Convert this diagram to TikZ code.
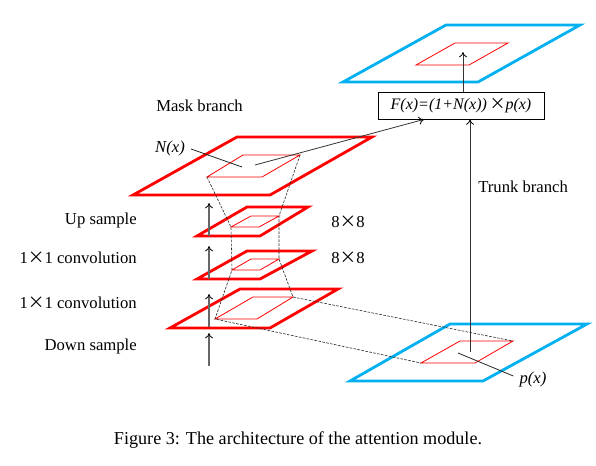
\documentclass[tikz,border=0pt]{standalone}
\usepackage{fontspec}
\setmainfont{Liberation Serif}
\newfontfamily\cjk{Noto Sans CJK SC}
\usetikzlibrary{arrows.meta,calc}
\definecolor{skyb}{RGB}{0,176,240}
\begin{document}
\begin{tikzpicture}[x=0.75pt,y=-0.75pt,
  outerred/.style={draw=red,line width=2.1pt,line join=miter},
  innerred/.style={draw=red,line width=0.6pt},
  outerblue/.style={draw=skyb,line width=2.1pt,line join=miter},
  dashline/.style={draw=black!85,line width=0.45pt,dash pattern=on 2pt off 1pt},
  lbl/.style={font=\fontsize{12.5}{14}\selectfont,inner sep=0pt},
  uparrow/.style={draw=black!60,line width=0.8pt,-{To[length=4pt,width=6pt,line width=0.6pt,color=black]}},
  thinarrow/.style={draw=black!80,line width=0.6pt,-{To[length=4pt,width=6pt,line width=0.6pt,color=black]}},
  pointer/.style={draw=black!85,line width=0.6pt}]
\useasboundingbox (0,0) rectangle (596,465);

% top output plane
\draw[outerblue] (343,82) -- (446,25) -- (580,25) -- (478,82) -- cycle;
\draw[innerred] (416,65) -- (455,43) -- (508,43) -- (469,65) -- cycle;

% mask plane
\draw[outerred] (133,195) -- (237,137) -- (372,137) -- (270,195) -- cycle;
\coordinate (mbl) at (207,177); \coordinate (mtl) at (243,155);
\coordinate (mtr) at (300,155); \coordinate (mbr) at (262,177);
\draw[innerred] (mbl) -- (mtl) -- (mtr) -- (mbr) -- cycle;

% up sample plane
\draw[outerred] (197,236) -- (247,207) -- (308,207) -- (260,236) -- cycle;
\coordinate (ubl) at (231,227); \coordinate (utl) at (251,216);
\coordinate (utr) at (279,216); \coordinate (ubr) at (259,227);
\draw[innerred] (ubl) -- (utl) -- (utr) -- (ubr) -- cycle;

% conv plane 2
\draw[outerred] (197,279) -- (247,251) -- (312,251) -- (260,279) -- cycle;
\coordinate (cbl) at (232,270); \coordinate (ctl) at (251,259);
\coordinate (ctr) at (279,259); \coordinate (cbr) at (260,270);
\draw[innerred] (cbl) -- (ctl) -- (ctr) -- (cbr) -- cycle;

% conv plane 1
\draw[outerred] (170,328) -- (240,289) -- (338,289) -- (270,328) -- cycle;
\coordinate (dbl) at (215,319); \coordinate (dtl) at (253,297);
\coordinate (dtr) at (293,297); \coordinate (dbr) at (257,319);
\draw[innerred] (dbl) -- (dtl) -- (dtr) -- (dbr) -- cycle;

% trunk plane
\draw[outerblue] (350,381) -- (450,324) -- (587,324) -- (483,381) -- cycle;
\coordinate (tbl) at (421,363); \coordinate (ttl) at (460,341);
\coordinate (ttr) at (513,341); \coordinate (tbr) at (475,363);
\draw[innerred] (tbl) -- (ttl) -- (ttr) -- (tbr) -- cycle;

% dashed connectors
\draw[dashline] (mbl) -- (ubl) -- (cbl) -- (dbl) -- (tbl);
\draw[dashline] (mtr) -- (utr) -- (ctr) -- (dtr) -- (ttr);

% left arrows
\coordinate (a0) at (209,366); \coordinate (a1) at (209,333);
\coordinate (a2) at (209,327); \coordinate (a3) at (209,294);
\coordinate (a4) at (209,279); \coordinate (a5) at (209,246);
\coordinate (a6) at (209,236); \coordinate (a7) at (209,203);
\draw[uparrow] (a0) -- (a1);
\draw[uparrow] (a2) -- (a3);
\draw[uparrow] (a4) -- (a5);
\draw[uparrow] (a6) -- (a7);

% formula box
\node[draw,line width=0.6pt,minimum width=124.5pt,minimum height=20.25pt,inner sep=0pt,
      font=\fontsize{12}{14}\selectfont\itshape] (fx) at (461,105.5)
  {F(x)=(1+N(x))\,{\cjk\upshape ×}p(x)};
\coordinate (otop) at (463,52);
\draw[thinarrow] (fx.north -| otop) -- (otop);
\coordinate (tp) at (470,352);
\draw[thinarrow] (tp) -- (tp |- fx.south);
\coordinate (nx) at (255,165);
\coordinate (fxin) at (424,121);
\draw[thinarrow] (nx) -- (fxin |- fx.south);

% labels
\node[lbl,anchor=west] (mask) at (156,106) {Mask branch};
\node[lbl,font=\fontsize{12.5}{14}\selectfont\itshape] (nxl) at (170,148) {N(x)};
\coordinate (nxp) at (242,167);
\draw[pointer] ($(nxl.east)+(6,1)$) -- (nxp);
\node[lbl,font=\fontsize{12.5}{14}\selectfont\itshape] (pxl) at (533,379) {p(x)};
\coordinate (pxp) at (458,353);
\draw[pointer] ($(pxl.west)+(-6,-3)$) -- (pxp);

\node[lbl,anchor=east] (lup) at (137,220) {Up sample};
\node[lbl,anchor=east] (lc2) at (137,258) {1{\cjk ×}1 convolution};
\node[lbl,anchor=east] (lc1) at (137,303) {1{\cjk ×}1 convolution};
\node[lbl,anchor=east] (ldn) at (137,346) {Down sample};
\node[lbl,anchor=west] (s1) at (331,222) {8{\cjk ×}8};
\node[lbl,anchor=west] (s2) at (331,258) {8{\cjk ×}8};
\node[lbl,anchor=west] (trunk) at (478,187) {Trunk branch};

\node[font=\fontsize{13.6}{16}\selectfont,inner sep=0pt] (cap) at (298,440)
  {Figure 3: The architecture of the attention module.};
\end{tikzpicture}
\end{document}
